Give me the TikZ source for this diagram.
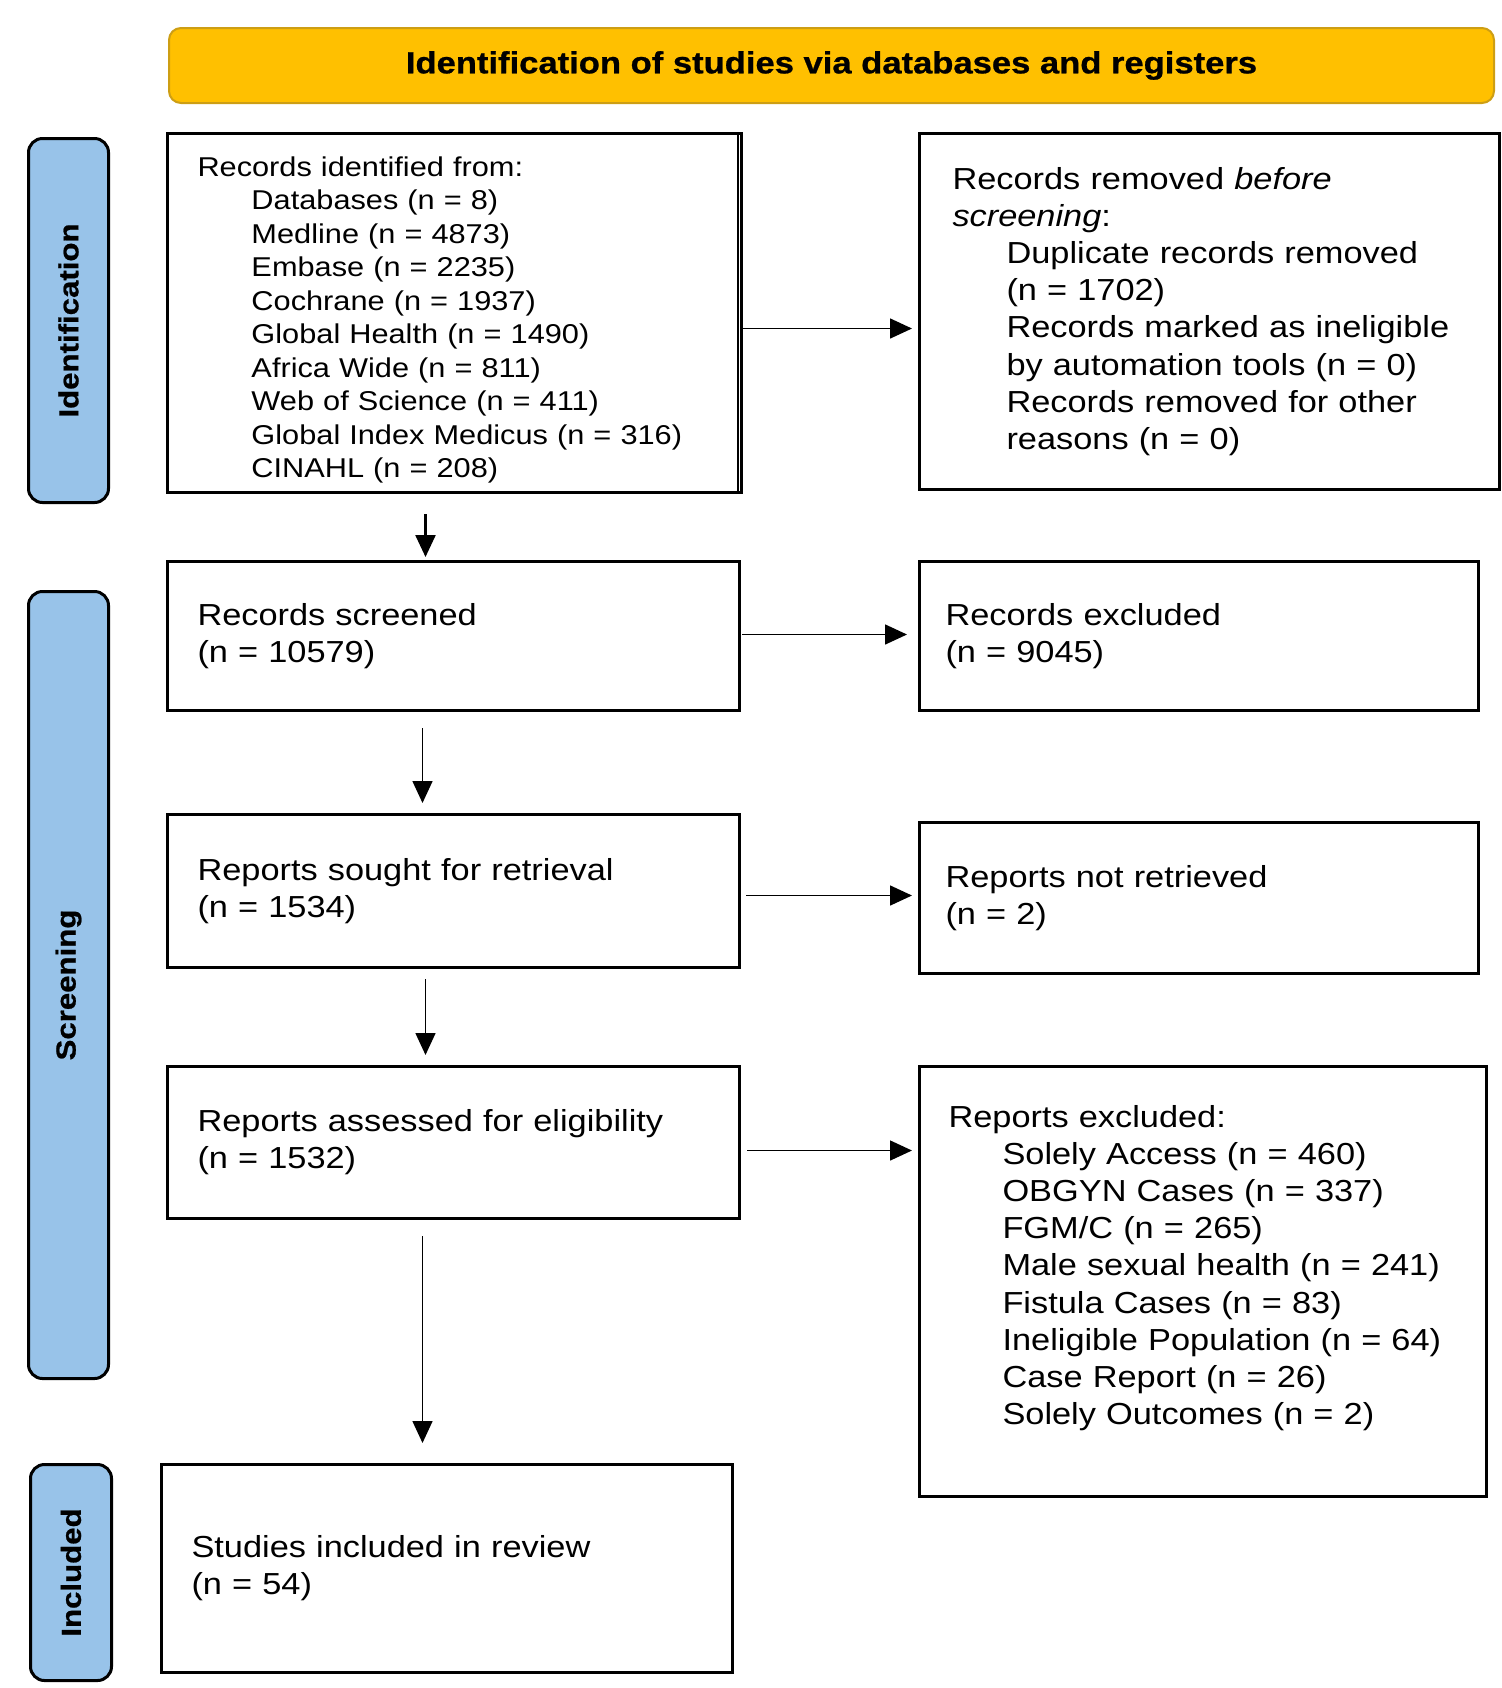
\documentclass[tikz,border=0pt]{standalone}
\usepackage{fontspec}
\setmainfont{Liberation Sans}[FakeStretch=1.13, BoldFeatures={FakeBold=0.8}]
\usetikzlibrary{arrows.meta}
\definecolor{hdrfill}{RGB}{255,192,0}
\definecolor{hdrdraw}{RGB}{205,158,20}
\definecolor{labfill}{RGB}{152,195,233}
\newcommand{\mainsz}{\fontsize{15.2}{18.6}\selectfont}
\newcommand{\smallsz}{\fontsize{13.6}{16.75}\selectfont}
\newcommand{\ind}{\hspace*{27pt}}
\begin{document}
\begin{tikzpicture}[x=0.5pt,y=-0.5pt,
  box/.style={draw, line width=1.5pt, rectangle, anchor=north west, inner xsep=15pt, inner ysep=0pt, align=left, font=\mainsz},
  lab/.style={draw, line width=1.5pt, rounded corners=7pt, fill=labfill, anchor=north west, inner sep=0pt, font=\fontsize{13.8}{16}\selectfont\bfseries},
  hdr/.style={draw=hdrdraw, line width=1pt, rounded corners=6pt, fill=hdrfill, anchor=north west, inner sep=0pt, font=\fontsize{15.3}{18}\selectfont\bfseries},
  arr/.style={-{Triangle[length=11pt,width=10pt]}, line width=0.8pt}
]
\useasboundingbox (0,0) rectangle (1502,1688);

% header
\node[hdr, minimum width=662.5pt, minimum height=37.5pt] (hdr) at (168,27) {\raisebox{-1.5pt}{Identification of studies via databases and registers}};

% side labels
\node[lab, minimum width=40pt, minimum height=182pt] (idlab) at (27,137) {\rotatebox{90}{Identification}};
\node[lab, minimum width=40pt, minimum height=393.5pt] (scrlab) at (27,590) {\rotatebox{90}{Screening}};
\node[lab, minimum width=40.5pt, minimum height=108pt] (inclab) at (29,1463) {\rotatebox{90}{Included}};

% boxes
\node[box, font=\smallsz, text width=257pt, minimum height=179.5pt] (recid) at (166,132) {%
\rule{0pt}{17pt}Records identified from:\\
\ind Databases (n = 8)\\
\ind Medline (n = 4873)\\
\ind Embase (n = 2235)\\
\ind Cochrane (n = 1937)\\
\ind Global Health (n = 1490)\\
\ind Africa Wide (n = 811)\\
\ind Web of Science (n = 411)\\
\ind Global Index Medicus (n = 316)\\
\ind CINAHL (n = 208)};
\draw[line width=0.75pt] ([xshift=-2.5pt]recid.north east) -- ([xshift=-2.5pt]recid.south east);

\node[box, text width=257pt, minimum height=178pt, inner xsep=16.5pt] (recrem) at (918,132) {%
Records removed \textit{before}\\
\textit{screening}:\\
\ind Duplicate records removed\\
\ind (n = 1702)\\
\ind Records marked as ineligible\\
\ind by automation tools (n = 0)\\
\ind Records removed for other\\
\ind reasons (n = 0)};

\node[box, text width=256pt, minimum height=74.5pt] (scr) at (166,560) {Records screened\\(n = 10579)};
\node[box, text width=253.5pt, minimum height=74.5pt, inner xsep=13pt] (exc) at (918,560) {Records excluded\\(n = 9045)};

\node[box, text width=256pt, minimum height=76.5pt] (sought) at (166,813) {Reports sought for retrieval\\(n = 1534)};
\node[box, text width=253.5pt, minimum height=75.5pt, inner xsep=13pt] (notret) at (918,821) {Reports not retrieved\\(n = 2)};

\node[box, text width=256pt, minimum height=76pt] (assess) at (166,1065) {Reports assessed for eligibility\\(n = 1532)};
\node[box, text width=254.5pt, minimum height=215pt, inner xsep=14.5pt] (repexc) at (918,1065) {%
Reports excluded:\\
\ind Solely Access (n = 460)\\
\ind OBGYN Cases (n = 337)\\
\ind FGM/C (n = 265)\\
\ind Male sexual health (n = 241)\\
\ind Fistula Cases (n = 83)\\
\ind Ineligible Population (n = 64)\\
\ind Case Report (n = 26)\\
\ind Solely Outcomes (n = 2)\\[-2pt]\mbox{}};

\node[box, text width=255.5pt, minimum height=104pt] (incl) at (160,1463) {Studies included in review\\(n = 54)};

% vertical arrows
\draw[arr, line width=1.2pt, shorten <=10pt, shorten >=1.5pt] ([xshift=-14.5pt]recid.south) coordinate (v1) -- (v1 |- scr.north);
\draw[arr, shorten <=8pt, shorten >=5pt] ([xshift=-15.5pt]scr.south) coordinate (v2) -- (v2 |- sought.north);
\draw[arr, shorten <=5pt, shorten >=5pt] ([xshift=-14pt]sought.south) coordinate (v3) -- (v3 |- assess.north);
\draw[arr, shorten <=8pt, shorten >=10pt] ([xshift=-15.5pt]assess.south) coordinate (v4) -- (v4 |- incl.north);

% horizontal arrows
\draw[arr, shorten >=3pt] ([yshift=-7.75pt]recid.east) coordinate (h1) -- (h1 -| recrem.west);
\draw[arr, shorten <=0.5pt, shorten >=5.5pt] ([yshift=0.75pt]scr.east) coordinate (h2) -- (h2 -| exc.west);
\draw[arr, shorten <=2.5pt, shorten >=3pt] ([yshift=-2.25pt]sought.east) coordinate (h3) -- (h3 -| notret.west);
\draw[arr, shorten <=3pt, shorten >=3pt] ([yshift=-4pt]assess.east) coordinate (h4) -- (h4 -| repexc.west);
\end{tikzpicture}
\end{document}
